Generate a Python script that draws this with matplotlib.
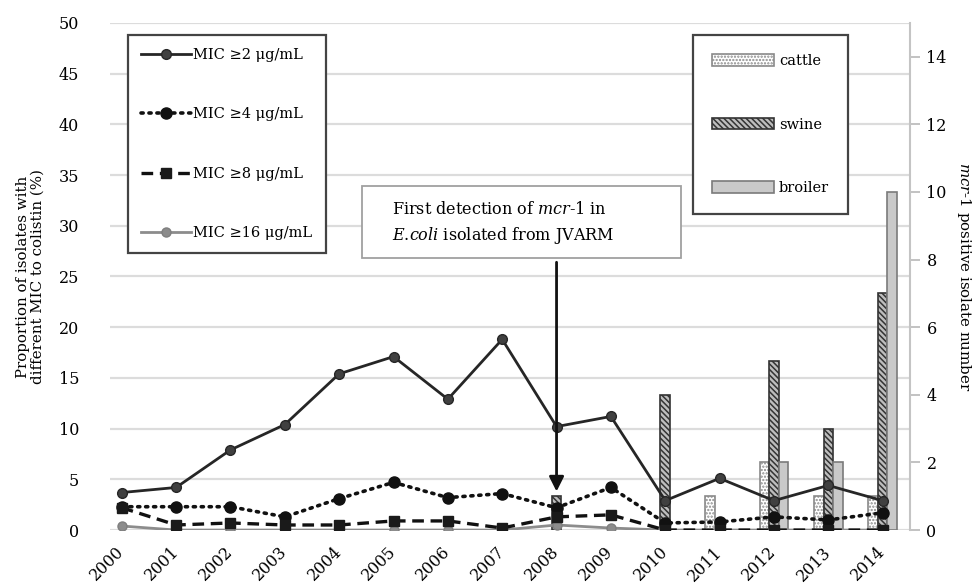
import matplotlib
matplotlib.use("Agg")
import matplotlib.pyplot as plt
from matplotlib.patches import Rectangle
import numpy as np

plt.rcParams['font.family'] = ['DejaVu Serif']
plt.rcParams['mathtext.fontset'] = 'custom'
plt.rcParams['mathtext.rm'] = 'DejaVu Serif'
plt.rcParams['mathtext.it'] = 'DejaVu Serif:italic'
plt.rcParams['hatch.linewidth'] = 1.1

# Data
years = list(range(2000, 2015))
mic2 = [3.7, 4.2, 7.9, 10.4, 15.4, 17.1, 12.9, 18.8, 10.2, 11.2, 2.9, 5.1, 2.9, 4.4, 2.9]
mic4 = [2.3, 2.3, 2.3, 1.3, 3.1, 4.7, 3.2, 3.6, 2.2, 4.2, 0.7, 0.8, 1.3, 1.0, 1.7]
mic8 = [2.2, 0.5, 0.7, 0.5, 0.5, 0.9, 0.9, 0.2, 1.3, 1.5, 0.0, 0.0, 0.0, 0.0, 0.0]
mic16 = [0.4, 0.0, 0.0, 0.0, 0.0, 0.0, 0.0, 0.0, 0.5, 0.2, 0.0, 0.0, 0.0, 0.0, 0.0]

cattle = [0, 0, 0, 0, 0, 0, 0, 0, 0, 0, 0, 1, 2, 1, 1]
swine = [0, 0, 0, 0, 0, 0, 0, 0, 1, 0, 4, 0, 5, 3, 7]
broiler = [0, 0, 0, 0, 0, 0, 0, 0, 0, 0, 0, 0, 2, 2, 10]

left_ticks = [0, 5, 10, 15, 20, 25, 30, 35, 40, 45, 50]
right_ticks = [0, 2, 4, 6, 8, 10, 12, 14]
detect_year = 2008
arrow_top, arrow_tip = 26.4, 3.8

x = np.arange(len(years))

fig = plt.figure(figsize=(9.72, 5.87), dpi=100)
ax = fig.add_axes([0.113, 0.097, 0.823, 0.864])
ax2 = ax.twinx()

# bars on the right axis (drawn underneath the lines)
ax.set_zorder(2)
ax2.set_zorder(1)
ax.patch.set_visible(False)

bw = 0.175
bar_styles = [
    ("cattle", cattle, -bw, dict(facecolor='white', edgecolor='#8a8a8a', hatch='.....')),
    ("swine", swine, 0.0, dict(facecolor='#bdbdbd', edgecolor='#333333', hatch='\\\\\\\\\\\\')),
    ("broiler", broiler, bw, dict(facecolor='#c9c9c9', edgecolor='#7a7a7a')),
]
bar_handles = []
for name, vals, off, st in bar_styles:
    vals = np.array(vals, dtype=float)
    keep = vals > 0
    b = ax2.bar(x[keep] + off, vals[keep], width=bw, linewidth=1.2, label=name, zorder=3, **st)
    bar_handles.append(b)

# gridlines from the left axis, drawn behind the bars
ax2.hlines(left_ticks, 0, 1, transform=ax.get_yaxis_transform(), colors='#dcdcdc',
           linewidth=1.6, zorder=0)

# lines on the left axis
l2, = ax.plot(x, mic2, color='#262626', lw=2.0, marker='o', ms=7, mfc='#404040',
              mec='#262626', label='MIC ≥2 μg/mL', zorder=5)
l4, = ax.plot(x, mic4, color='#111111', lw=2.6, ls=(0, (0.6, 1.6)), dash_capstyle='round',
              marker='o', ms=8, mfc='#111111', mec='#111111', label='MIC ≥4 μg/mL', zorder=4)
l8, = ax.plot(x, mic8, color='#111111', lw=2.4, ls=(0, (3.5, 2)), marker='s', ms=7,
              mfc='#1a1a1a', mec='#1a1a1a', label='MIC ≥8 μg/mL', zorder=4)
l16, = ax.plot(x, mic16, color='#8c8c8c', lw=2.0, marker='o', ms=6.5, mfc='#8c8c8c',
               mec='#7f7f7f', label='MIC ≥16 μg/mL', zorder=3)

ax.set_xlim(-0.22, 14.5)
ax.set_ylim(0, 50)
ax2.set_ylim(0, 15)
ax.set_yticks(left_ticks)
ax2.set_yticks(right_ticks)
ax.set_xticks(x)
ax.set_xticklabels([str(y) for y in years], rotation=45, ha='right', va='center',
                   rotation_mode='anchor', fontsize=11.5)
ax.tick_params(axis='x', length=0, pad=14)
ax.tick_params(axis='y', length=0, pad=22, labelsize=11.5)
ax2.tick_params(axis='y', length=7, width=1.3, color='#bdbdbd', pad=5, labelsize=11.5,
                direction='out')

for a in (ax, ax2):
    for s in ('top', 'left', 'bottom'):
        a.spines[s].set_visible(False)
ax.spines['right'].set_visible(False)
ax2.spines['right'].set_color('#c4c4c4')
ax2.spines['right'].set_linewidth(1.5)

ax.set_ylabel('Proportion of isolates with\ndifferent MIC to colistin (%)', fontsize=10.8,
              labelpad=10, linespacing=1.1)
ax2.set_ylabel('$\\mathit{mcr}$-$\\mathit{1}$ positive isolate number', fontsize=10.8,
               rotation=270, labelpad=19)

# legends
leg1 = ax.legend(handles=[l2, l4, l8, l16], loc='upper left', bbox_to_anchor=(0.0225, 0.976),
                 borderaxespad=0, fontsize=10.5, handlelength=3.4, handletextpad=0.2,
                 labelspacing=3.1, borderpad=0.9, fancybox=False, framealpha=1,
                 edgecolor='#444444')
leg1.get_frame().set_linewidth(1.6)
leg2 = ax2.legend(handles=bar_handles, loc='upper left', bbox_to_anchor=(0.729, 0.976),
                  borderaxespad=0, fontsize=10.5, handlelength=4.25, handleheight=0.85,
                  handletextpad=0.35, labelspacing=3.4, borderpad=1.3, fancybox=False,
                  framealpha=1, edgecolor='#444444')
leg2.get_frame().set_linewidth(1.6)

# annotation box and arrow
ax.add_patch(Rectangle((0.315, 0.536), 0.399, 0.142, transform=ax.transAxes,
                       facecolor='white', edgecolor='#a0a0a0', lw=1.3, zorder=6))
ax.text(0.3525, 0.604, 'First detection of $\\mathit{mcr}$-$\\mathit{1}$ in\n'
        '$\\mathit{E}$.$\\mathit{coli}$ isolated from JVARM', transform=ax.transAxes,
        fontsize=11.5, ha='left', va='center', linespacing=1.45, zorder=7)
xd = years.index(detect_year)
ax.annotate('', xy=(xd, arrow_tip), xytext=(xd, arrow_top),
            arrowprops=dict(arrowstyle='-|>', color='#111111', lw=2.0,
                            mutation_scale=22, shrinkA=0, shrinkB=0), zorder=8)

fig.savefig('out.png', dpi=100)
